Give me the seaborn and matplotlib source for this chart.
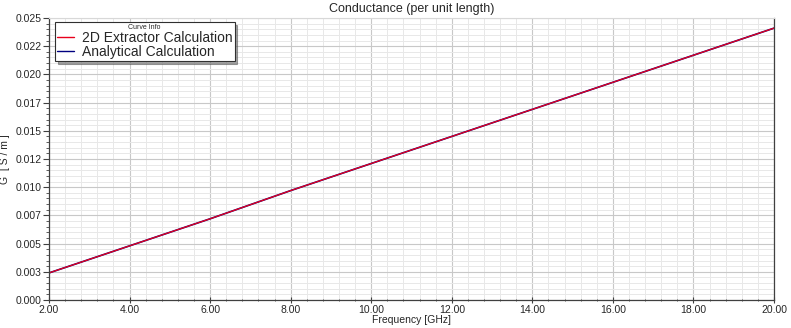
import matplotlib
matplotlib.use("Agg")
import matplotlib.pyplot as plt
import seaborn as sns
import pandas as pd
from matplotlib.ticker import AutoMinorLocator

# ---- data ----
freq_ghz = [2, 4, 6, 8, 10, 12, 14, 16, 18, 20]
g_extractor = [0.0024, 0.0048, 0.0072, 0.0097, 0.0121, 0.0145, 0.0169, 0.0193, 0.0217, 0.0241]
g_analytical = [0.0024, 0.0048, 0.0072, 0.0097, 0.0121, 0.0145, 0.0169, 0.0193, 0.0217, 0.0241]
series_names = ["2D Extractor Calculation", "Analytical Calculation"]
x_ticks = [2, 4, 6, 8, 10, 12, 14, 16, 18, 20]
x_tick_labels = ["2.00", "4.00", "6.00", "8.00", "10.00", "12.00", "14.00", "16.00", "18.00", "20.00"]
y_ticks = [0.0, 0.0025, 0.005, 0.0075, 0.01, 0.0125, 0.015, 0.0175, 0.02, 0.0225, 0.025]
y_tick_labels = ["0.000", "0.003", "0.005", "0.007", "0.010", "0.012", "0.015", "0.017", "0.020", "0.022", "0.025"]

df = pd.DataFrame({
    "f": freq_ghz * 2,
    "G": g_extractor + g_analytical,
    "curve": [series_names[0]] * len(freq_ghz) + [series_names[1]] * len(freq_ghz),
})

sns.set_style("white")
plt.rcParams['font.family'] = ['Liberation Sans', 'DejaVu Sans']

fig = plt.figure(figsize=(7.91, 3.28), dpi=100)
ax = fig.add_axes([49/791, 28/328, (774-49)/791, (300-18)/328])

palette = {series_names[0]: "#e8001c", series_names[1]: "#000080"}
# draw analytical first, extractor on top
sns.lineplot(data=df[df.curve == series_names[1]], x="f", y="G", color=palette[series_names[1]],
             linewidth=1.2, ax=ax, label=series_names[1], legend=False)
sns.lineplot(data=df[df.curve == series_names[0]], x="f", y="G", color=palette[series_names[0]],
             linewidth=0.9, ax=ax, label=series_names[0], legend=False)

ax.set_xlim(2, 20)
ax.set_ylim(0, 0.025)
ax.set_xticks(x_ticks)
ax.set_xticklabels(x_tick_labels)
ax.set_yticks(y_ticks)
ax.set_yticklabels(y_tick_labels)
ax.xaxis.set_minor_locator(AutoMinorLocator(5))
ax.yaxis.set_minor_locator(AutoMinorLocator(5))

ax.grid(which="major", color="#c8c8c8", linewidth=0.8)
ax.grid(which="minor", color="#e8e8e8", linewidth=0.7)
ax.set_axisbelow(True)

for s in ["left", "bottom", "right"]:
    ax.spines[s].set_color("#404040")
    ax.spines[s].set_linewidth(0.9)
ax.spines["top"].set_color("#d8d8d8")
ax.spines["top"].set_linewidth(0.8)

ax.tick_params(axis="both", which="major", labelsize=7.5, length=4, width=0.8, color="#404040",
               direction="out", pad=1.5)
ax.tick_params(axis="both", which="minor", length=2, width=0.6, color="#404040", direction="out")
ax.tick_params(axis="x", which="both", direction="inout")
ax.tick_params(left=True, bottom=True, which="both")

ax.set_title("Conductance (per unit length)", fontsize=9, pad=4)
ax.set_xlabel("Frequency [GHz]", fontsize=7.5, labelpad=0)
ax.set_ylabel("G  [ S / m ]", fontsize=7.5)
ax.yaxis.set_label_coords(-0.054, 0.5)

handles, labels = ax.get_legend_handles_labels()
order = [labels.index(series_names[0]), labels.index(series_names[1])]
leg = ax.legend([handles[i] for i in order], [labels[i] for i in order],
                title="Curve Info", title_fontsize=5, fontsize=10,
                loc="upper left", bbox_to_anchor=(0.008, 0.985),
                frameon=True, fancybox=False, shadow=True, framealpha=1,
                edgecolor="#303030", handlelength=1.2, handletextpad=0.6,
                borderpad=0.15, labelspacing=0.0, borderaxespad=0)
leg.get_frame().set_linewidth(0.8)
for line in leg.get_lines():
    line.set_linewidth(1.0)

fig.savefig("out.png", dpi=100, facecolor="white")
